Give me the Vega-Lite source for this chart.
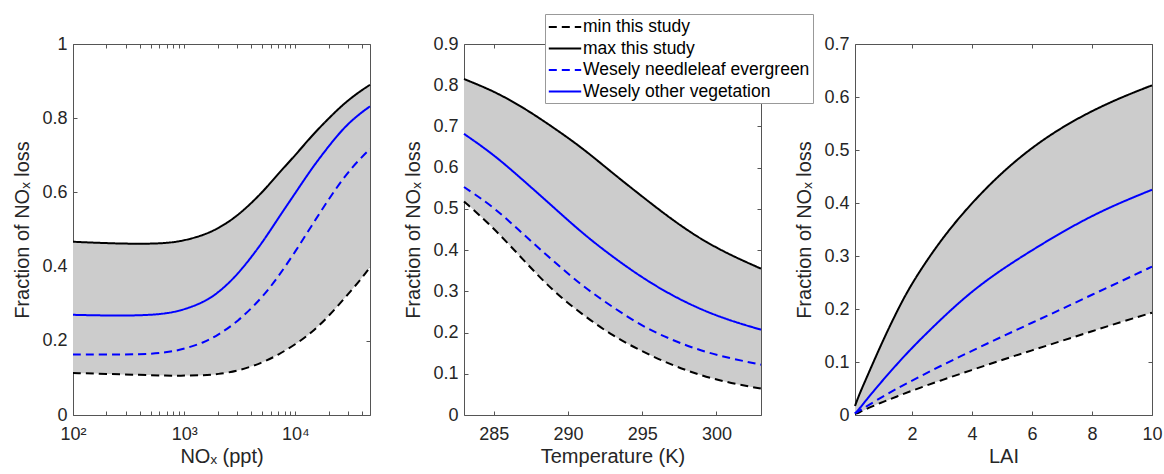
{
  "$schema": "https://vega.github.io/schema/vega-lite/v6.json",
  "padding": {"left": 12, "top": 13, "right": 0, "bottom": 0},
  "bounds": "flush",
  "spacing": 94,
  "config": {
    "font": "Liberation Sans",
    "view": {"stroke": "#555555", "strokeWidth": 1},
    "axis": {
      "labelFont": "Liberation Sans", "labelFontSize": 18, "labelColor": "#262626",
      "titleFont": "Liberation Sans", "titleFontSize": 20, "titleColor": "#262626", "titleFontWeight": "normal",
      "tickColor": "#555555", "tickSize": -4, "domain": false, "grid": false,
      "labelOverlap": false, "labelFlush": false
    },
    "axisX": {"labelPadding": 14, "titlePadding": 3},
    "axisY": {"labelPadding": 10, "titlePadding": 9},
    "line": {"strokeWidth": 2, "interpolate": "basis"},
    "area": {"interpolate": "basis"}
  },
  "datasets": {
    "p1": [
      {"x": 100, "series": "min this study", "y": 0.113}, {"x": 200, "series": "min this study", "y": 0.111}, {"x": 400, "series": "min this study", "y": 0.108}, {"x": 700, "series": "min this study", "y": 0.106}, {"x": 1000, "series": "min this study", "y": 0.106}, {"x": 1500, "series": "min this study", "y": 0.107}, {"x": 2000, "series": "min this study", "y": 0.110}, {"x": 3000, "series": "min this study", "y": 0.118}, {"x": 5000, "series": "min this study", "y": 0.140}, {"x": 7000, "series": "min this study", "y": 0.162}, {"x": 10000, "series": "min this study", "y": 0.190}, {"x": 14000, "series": "min this study", "y": 0.222}, {"x": 20000, "series": "min this study", "y": 0.266}, {"x": 28000, "series": "min this study", "y": 0.316}, {"x": 38000, "series": "min this study", "y": 0.362}, {"x": 47000, "series": "min this study", "y": 0.398},
      {"x": 100, "series": "max this study", "y": 0.467}, {"x": 200, "series": "max this study", "y": 0.463}, {"x": 400, "series": "max this study", "y": 0.461}, {"x": 700, "series": "max this study", "y": 0.463}, {"x": 1000, "series": "max this study", "y": 0.470}, {"x": 1500, "series": "max this study", "y": 0.485}, {"x": 2000, "series": "max this study", "y": 0.502}, {"x": 3000, "series": "max this study", "y": 0.535}, {"x": 5000, "series": "max this study", "y": 0.598}, {"x": 7000, "series": "max this study", "y": 0.650}, {"x": 10000, "series": "max this study", "y": 0.700}, {"x": 14000, "series": "max this study", "y": 0.752}, {"x": 20000, "series": "max this study", "y": 0.800}, {"x": 28000, "series": "max this study", "y": 0.842}, {"x": 38000, "series": "max this study", "y": 0.872}, {"x": 47000, "series": "max this study", "y": 0.890},
      {"x": 100, "series": "Wesely needleleaf evergreen", "y": 0.163}, {"x": 200, "series": "Wesely needleleaf evergreen", "y": 0.163}, {"x": 400, "series": "Wesely needleleaf evergreen", "y": 0.163}, {"x": 700, "series": "Wesely needleleaf evergreen", "y": 0.168}, {"x": 1000, "series": "Wesely needleleaf evergreen", "y": 0.178}, {"x": 1500, "series": "Wesely needleleaf evergreen", "y": 0.195}, {"x": 2000, "series": "Wesely needleleaf evergreen", "y": 0.215}, {"x": 3000, "series": "Wesely needleleaf evergreen", "y": 0.250}, {"x": 5000, "series": "Wesely needleleaf evergreen", "y": 0.315}, {"x": 7000, "series": "Wesely needleleaf evergreen", "y": 0.372}, {"x": 10000, "series": "Wesely needleleaf evergreen", "y": 0.440}, {"x": 14000, "series": "Wesely needleleaf evergreen", "y": 0.510}, {"x": 20000, "series": "Wesely needleleaf evergreen", "y": 0.582}, {"x": 28000, "series": "Wesely needleleaf evergreen", "y": 0.645}, {"x": 38000, "series": "Wesely needleleaf evergreen", "y": 0.690}, {"x": 47000, "series": "Wesely needleleaf evergreen", "y": 0.717},
      {"x": 100, "series": "Wesely other vegetation", "y": 0.270}, {"x": 200, "series": "Wesely other vegetation", "y": 0.268}, {"x": 400, "series": "Wesely other vegetation", "y": 0.268}, {"x": 700, "series": "Wesely other vegetation", "y": 0.273}, {"x": 1000, "series": "Wesely other vegetation", "y": 0.284}, {"x": 1500, "series": "Wesely other vegetation", "y": 0.304}, {"x": 2000, "series": "Wesely other vegetation", "y": 0.328}, {"x": 3000, "series": "Wesely other vegetation", "y": 0.376}, {"x": 5000, "series": "Wesely other vegetation", "y": 0.462}, {"x": 7000, "series": "Wesely other vegetation", "y": 0.530}, {"x": 10000, "series": "Wesely other vegetation", "y": 0.598}, {"x": 14000, "series": "Wesely other vegetation", "y": 0.664}, {"x": 20000, "series": "Wesely other vegetation", "y": 0.725}, {"x": 28000, "series": "Wesely other vegetation", "y": 0.778}, {"x": 38000, "series": "Wesely other vegetation", "y": 0.812}, {"x": 47000, "series": "Wesely other vegetation", "y": 0.832}
    ],
    "p2": [
      {"x": 283, "series": "min this study", "y": 0.518}, {"x": 285, "series": "min this study", "y": 0.454}, {"x": 287, "series": "min this study", "y": 0.376}, {"x": 289, "series": "min this study", "y": 0.300}, {"x": 291, "series": "min this study", "y": 0.243}, {"x": 293, "series": "min this study", "y": 0.192}, {"x": 295, "series": "min this study", "y": 0.154}, {"x": 297, "series": "min this study", "y": 0.121}, {"x": 299, "series": "min this study", "y": 0.095}, {"x": 301, "series": "min this study", "y": 0.077}, {"x": 303, "series": "min this study", "y": 0.064},
      {"x": 283, "series": "max this study", "y": 0.815}, {"x": 285, "series": "max this study", "y": 0.786}, {"x": 287, "series": "max this study", "y": 0.746}, {"x": 289, "series": "max this study", "y": 0.698}, {"x": 291, "series": "max this study", "y": 0.647}, {"x": 293, "series": "max this study", "y": 0.587}, {"x": 295, "series": "max this study", "y": 0.530}, {"x": 297, "series": "max this study", "y": 0.474}, {"x": 299, "series": "max this study", "y": 0.425}, {"x": 301, "series": "max this study", "y": 0.387}, {"x": 303, "series": "max this study", "y": 0.355},
      {"x": 283, "series": "Wesely needleleaf evergreen", "y": 0.553}, {"x": 285, "series": "Wesely needleleaf evergreen", "y": 0.505}, {"x": 287, "series": "Wesely needleleaf evergreen", "y": 0.438}, {"x": 289, "series": "Wesely needleleaf evergreen", "y": 0.374}, {"x": 291, "series": "Wesely needleleaf evergreen", "y": 0.312}, {"x": 293, "series": "Wesely needleleaf evergreen", "y": 0.262}, {"x": 295, "series": "Wesely needleleaf evergreen", "y": 0.215}, {"x": 297, "series": "Wesely needleleaf evergreen", "y": 0.182}, {"x": 299, "series": "Wesely needleleaf evergreen", "y": 0.155}, {"x": 301, "series": "Wesely needleleaf evergreen", "y": 0.137}, {"x": 303, "series": "Wesely needleleaf evergreen", "y": 0.122},
      {"x": 283, "series": "Wesely other vegetation", "y": 0.682}, {"x": 285, "series": "Wesely other vegetation", "y": 0.632}, {"x": 287, "series": "Wesely other vegetation", "y": 0.569}, {"x": 289, "series": "Wesely other vegetation", "y": 0.505}, {"x": 291, "series": "Wesely other vegetation", "y": 0.440}, {"x": 293, "series": "Wesely other vegetation", "y": 0.384}, {"x": 295, "series": "Wesely other vegetation", "y": 0.333}, {"x": 297, "series": "Wesely other vegetation", "y": 0.290}, {"x": 299, "series": "Wesely other vegetation", "y": 0.255}, {"x": 301, "series": "Wesely other vegetation", "y": 0.228}, {"x": 303, "series": "Wesely other vegetation", "y": 0.207}
    ],
    "p3": [
      {"x": 0.1, "series": "min this study", "y": 0.002}, {"x": 0.25, "series": "min this study", "y": 0.005}, {"x": 0.5, "series": "min this study", "y": 0.012}, {"x": 1, "series": "min this study", "y": 0.024}, {"x": 1.5, "series": "min this study", "y": 0.035}, {"x": 2, "series": "min this study", "y": 0.046}, {"x": 3, "series": "min this study", "y": 0.066}, {"x": 4, "series": "min this study", "y": 0.085}, {"x": 5, "series": "min this study", "y": 0.104}, {"x": 6, "series": "min this study", "y": 0.122}, {"x": 7, "series": "min this study", "y": 0.140}, {"x": 8, "series": "min this study", "y": 0.158}, {"x": 9, "series": "min this study", "y": 0.176}, {"x": 10, "series": "min this study", "y": 0.193},
      {"x": 0.1, "series": "max this study", "y": 0.017}, {"x": 0.25, "series": "max this study", "y": 0.040}, {"x": 0.5, "series": "max this study", "y": 0.072}, {"x": 1, "series": "max this study", "y": 0.137}, {"x": 1.5, "series": "max this study", "y": 0.196}, {"x": 2, "series": "max this study", "y": 0.250}, {"x": 3, "series": "max this study", "y": 0.334}, {"x": 4, "series": "max this study", "y": 0.401}, {"x": 5, "series": "max this study", "y": 0.458}, {"x": 6, "series": "max this study", "y": 0.505}, {"x": 7, "series": "max this study", "y": 0.543}, {"x": 8, "series": "max this study", "y": 0.574}, {"x": 9, "series": "max this study", "y": 0.600}, {"x": 10, "series": "max this study", "y": 0.622},
      {"x": 0.1, "series": "Wesely needleleaf evergreen", "y": 0.003}, {"x": 0.25, "series": "Wesely needleleaf evergreen", "y": 0.008}, {"x": 0.5, "series": "Wesely needleleaf evergreen", "y": 0.017}, {"x": 1, "series": "Wesely needleleaf evergreen", "y": 0.034}, {"x": 1.5, "series": "Wesely needleleaf evergreen", "y": 0.050}, {"x": 2, "series": "Wesely needleleaf evergreen", "y": 0.065}, {"x": 3, "series": "Wesely needleleaf evergreen", "y": 0.094}, {"x": 4, "series": "Wesely needleleaf evergreen", "y": 0.121}, {"x": 5, "series": "Wesely needleleaf evergreen", "y": 0.148}, {"x": 6, "series": "Wesely needleleaf evergreen", "y": 0.174}, {"x": 7, "series": "Wesely needleleaf evergreen", "y": 0.200}, {"x": 8, "series": "Wesely needleleaf evergreen", "y": 0.227}, {"x": 9, "series": "Wesely needleleaf evergreen", "y": 0.253}, {"x": 10, "series": "Wesely needleleaf evergreen", "y": 0.280},
      {"x": 0.1, "series": "Wesely other vegetation", "y": 0.003}, {"x": 0.25, "series": "Wesely other vegetation", "y": 0.012}, {"x": 0.5, "series": "Wesely other vegetation", "y": 0.030}, {"x": 1, "series": "Wesely other vegetation", "y": 0.064}, {"x": 1.5, "series": "Wesely other vegetation", "y": 0.096}, {"x": 2, "series": "Wesely other vegetation", "y": 0.127}, {"x": 3, "series": "Wesely other vegetation", "y": 0.183}, {"x": 4, "series": "Wesely other vegetation", "y": 0.234}, {"x": 5, "series": "Wesely other vegetation", "y": 0.275}, {"x": 6, "series": "Wesely other vegetation", "y": 0.311}, {"x": 7, "series": "Wesely other vegetation", "y": 0.345}, {"x": 8, "series": "Wesely other vegetation", "y": 0.376}, {"x": 9, "series": "Wesely other vegetation", "y": 0.402}, {"x": 10, "series": "Wesely other vegetation", "y": 0.425}
    ]
  },
  "hconcat": [
    {
      "width": 297, "height": 371,
      "layer": [
        {
          "data": {"name": "p1"},
          "transform": [{"pivot": "series", "value": "y", "groupby": ["x"]}],
          "mark": {"type": "area", "color": "#cccccc"},
          "encoding": {
            "x": {"field": "x", "type": "quantitative", "scale": {"type": "log", "domain": [100, 47000], "nice": false},
                  "axis": {"values": [100,200,300,400,500,600,700,800,900,1000,2000,3000,4000,5000,6000,7000,8000,9000,10000,20000,30000,40000],
                           "labelExpr": "datum.value == 100 ? '10²' : datum.value == 1000 ? '10³' : datum.value == 10000 ? '10⁴' : ''",
                           "title": "NOₓ (ppt)"}},
            "y": {"field": "min this study", "type": "quantitative", "scale": {"domain": [0, 1], "nice": false},
                  "axis": {"values": [0, 0.2, 0.4, 0.6, 0.8, 1], "format": "~g", "title": "Fraction of NOₓ loss"}},
            "y2": {"field": "max this study"}
          }
        },
        {
          "data": {"name": "p1"},
          "mark": {"type": "line"},
          "encoding": {
            "x": {"field": "x", "type": "quantitative",
                  "axis": {"orient": "top", "values": [100,200,300,400,500,600,700,800,900,1000,2000,3000,4000,5000,6000,7000,8000,9000,10000,20000,30000,40000], "labels": false, "title": null}},
            "y": {"field": "y", "type": "quantitative",
                  "axis": {"orient": "right", "values": [0, 0.2, 0.4, 0.6, 0.8, 1], "labels": false, "title": null}},
            "color": {"field": "series", "type": "nominal",
                      "scale": {"domain": ["min this study", "max this study", "Wesely needleleaf evergreen", "Wesely other vegetation"], "range": ["#000000", "#000000", "#0000ff", "#0000ff"]},
                      "legend": null},
            "strokeDash": {"field": "series", "type": "nominal",
                      "scale": {"domain": ["min this study", "max this study", "Wesely needleleaf evergreen", "Wesely other vegetation"], "range": [[8, 5], [1, 0], [8, 5], [1, 0]]},
                      "legend": null}
          }
        }
      ],
      "resolve": {"axis": {"x": "independent", "y": "independent"}}
    },
    {
      "width": 297, "height": 371,
      "layer": [
        {
          "data": {"name": "p2"},
          "transform": [{"pivot": "series", "value": "y", "groupby": ["x"]}],
          "mark": {"type": "area", "color": "#cccccc"},
          "encoding": {
            "x": {"field": "x", "type": "quantitative", "scale": {"domain": [283, 303], "nice": false},
                  "axis": {"values": [285, 290, 295, 300], "title": "Temperature (K)"}},
            "y": {"field": "min this study", "type": "quantitative", "scale": {"domain": [0, 0.9], "nice": false},
                  "axis": {"values": [0, 0.1, 0.2, 0.3, 0.4, 0.5, 0.6, 0.7, 0.8, 0.9], "format": "~g", "title": "Fraction of NOₓ loss"}},
            "y2": {"field": "max this study"}
          }
        },
        {
          "data": {"name": "p2"},
          "mark": {"type": "line"},
          "encoding": {
            "x": {"field": "x", "type": "quantitative",
                  "axis": {"orient": "top", "values": [285, 290, 295, 300], "labels": false, "title": null}},
            "y": {"field": "y", "type": "quantitative",
                  "axis": {"orient": "right", "values": [0, 0.1, 0.2, 0.3, 0.4, 0.5, 0.6, 0.7, 0.8, 0.9], "labels": false, "title": null}},
            "color": {"field": "series", "type": "nominal",
                      "scale": {"domain": ["min this study", "max this study", "Wesely needleleaf evergreen", "Wesely other vegetation"], "range": ["#000000", "#000000", "#0000ff", "#0000ff"]},
                      "legend": {"orient": "none", "legendX": 81, "legendY": -30, "title": null,
                                 "symbolType": "M-1.8,0H1.8", "symbolSize": 324, "symbolStrokeWidth": 2, "symbolFillColor": "transparent",
                                 "labelFont": "Liberation Sans", "labelFontSize": 17.5, "labelColor": "#000000", "labelLimit": 300,
                                 "strokeColor": "#999999", "fillColor": "#ffffff", "padding": 3, "symbolOffset": 7, "labelOffset": 8, "rowPadding": 2.5}},
            "strokeDash": {"field": "series", "type": "nominal",
                      "scale": {"domain": ["min this study", "max this study", "Wesely needleleaf evergreen", "Wesely other vegetation"], "range": [[8, 5], [1, 0], [8, 5], [1, 0]]},
                      "legend": {"orient": "none", "legendX": 81, "legendY": -30, "title": null,
                                 "symbolType": "M-1.8,0H1.8", "symbolSize": 324, "symbolStrokeWidth": 2, "symbolFillColor": "transparent",
                                 "labelFont": "Liberation Sans", "labelFontSize": 17.5, "labelColor": "#000000", "labelLimit": 300,
                                 "strokeColor": "#999999", "fillColor": "#ffffff", "padding": 3, "symbolOffset": 7, "labelOffset": 8, "rowPadding": 2.5}}
          }
        }
      ],
      "resolve": {"axis": {"x": "independent", "y": "independent"}}
    },
    {
      "width": 297, "height": 371,
      "layer": [
        {
          "data": {"name": "p3"},
          "transform": [{"pivot": "series", "value": "y", "groupby": ["x"]}],
          "mark": {"type": "area", "color": "#cccccc"},
          "encoding": {
            "x": {"field": "x", "type": "quantitative", "scale": {"domain": [0.1, 10], "nice": false},
                  "axis": {"values": [2, 4, 6, 8, 10], "title": "LAI"}},
            "y": {"field": "min this study", "type": "quantitative", "scale": {"domain": [0, 0.7], "nice": false},
                  "axis": {"values": [0, 0.1, 0.2, 0.3, 0.4, 0.5, 0.6, 0.7], "format": "~g", "title": "Fraction of NOₓ loss"}},
            "y2": {"field": "max this study"}
          }
        },
        {
          "data": {"name": "p3"},
          "mark": {"type": "line"},
          "encoding": {
            "x": {"field": "x", "type": "quantitative",
                  "axis": {"orient": "top", "values": [2, 4, 6, 8, 10], "labels": false, "title": null}},
            "y": {"field": "y", "type": "quantitative",
                  "axis": {"orient": "right", "values": [0, 0.1, 0.2, 0.3, 0.4, 0.5, 0.6, 0.7], "labels": false, "title": null}},
            "color": {"field": "series", "type": "nominal",
                      "scale": {"domain": ["min this study", "max this study", "Wesely needleleaf evergreen", "Wesely other vegetation"], "range": ["#000000", "#000000", "#0000ff", "#0000ff"]},
                      "legend": null},
            "strokeDash": {"field": "series", "type": "nominal",
                      "scale": {"domain": ["min this study", "max this study", "Wesely needleleaf evergreen", "Wesely other vegetation"], "range": [[8, 5], [1, 0], [8, 5], [1, 0]]},
                      "legend": null}
          }
        }
      ],
      "resolve": {"axis": {"x": "independent", "y": "independent"}}
    }
  ],
  "resolve": {"scale": {"color": "independent", "strokeDash": "independent"}}
}
